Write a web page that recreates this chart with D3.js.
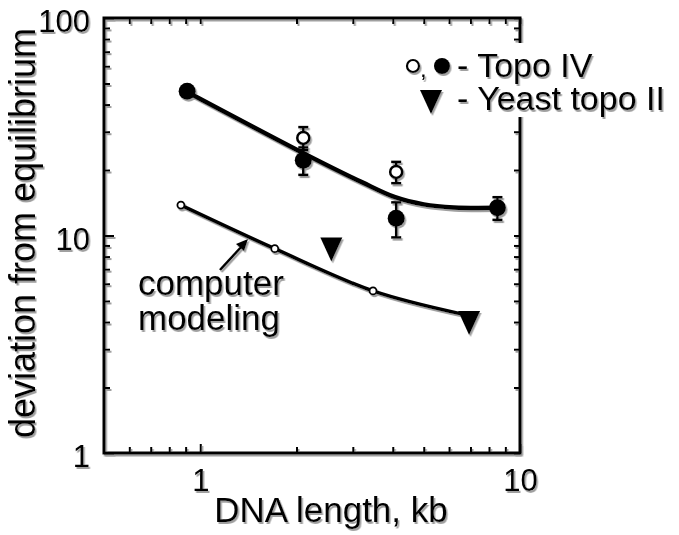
<!DOCTYPE html>
<html>
<head>
<meta charset="utf-8">
<script src="https://cdn.jsdelivr.net/npm/d3@7"></script>
<style>
  html, body { margin: 0; padding: 0; background: #fff; }
  svg { display: block; }
  text { font-family: "Liberation Sans", Arial, Helvetica, sans-serif; fill: #000; }
</style>
</head>
<body>
<svg id="chart" width="679" height="535"></svg>
<script>
// Topo IV measurements: open and filled circles with error bars
const topoOpenLength = [2.1, 4.1];
const topoOpenDev    = [28.1, 19.6];
const topoOpenErr    = [3.4, 2.2];

const topoFilledLength = [0.91, 2.1, 4.1, 8.5];
const topoFilledDev    = [46, 22.2, 12.0, 13.4];
const topoFilledErr    = [0, 3.2, 2.2, 1.6];

// Yeast topo II measurements
const yeastLength = [2.57, 6.93];
const yeastDev    = [8.8, 4.05];

// Smooth fit through the Topo IV data
const fitLength = [0.91, 2.2, 3.2, 4.07, 5.0, 6.2, 8.47];
const fitDev    = [45.7, 23.1, 17.6, 15.0, 13.9, 13.45, 13.4];

// Computer modeling: computed points and the curve through them
const modelLength = [0.87, 1.71, 3.47];
const modelDev    = [13.8, 8.7, 5.56];
const modelCurveLength = [0.87, 1.71, 3.47, 6.6];
const modelCurveDev    = [13.8, 8.7, 5.56, 4.35];

// Axis ticks
const xMajorTicks = [1, 10];
const xMinorTicks = [0.6, 0.7, 0.8, 0.9, 2, 3, 4, 5, 6, 7, 8, 9];
const yMajorTicks = [1, 10, 100];
const yMinorTicks = [2, 3, 4, 5, 6, 7, 8, 9, 20, 30, 40, 50, 60, 70, 80, 90];

const legendLabels = ["- Topo IV", "- Yeast topo II"];

const svg = d3.select("#chart");
const plotL = 104, plotR = 520, plotT = 18, plotB = 453;

const x = d3.scaleLog().domain([0.5, 10]).range([plotL, plotR]);
const y = d3.scaleLog().domain([1, 100]).range([plotB, plotT]);

// soft grey offset shadow that the printed figure carries
const defs = svg.append("defs");
const f = defs.append("filter").attr("id", "shade")
  .attr("x", "-10%").attr("y", "-10%").attr("width", "130%").attr("height", "130%");
f.append("feDropShadow").attr("dx", 1.5).attr("dy", 2).attr("stdDeviation", 0.6)
  .attr("flood-color", "#888").attr("flood-opacity", 0.8);

const g = svg.append("g").attr("filter", "url(#shade)");

// axes: ticks point into the plot on all four sides
function styleAxis(sel) {
  sel.select(".domain").remove();
  sel.selectAll(".tick line").attr("stroke", "#000").attr("stroke-width", 2);
}
g.append("g").attr("transform", `translate(0,${plotB})`)
  .call(d3.axisBottom(x).tickValues(xMajorTicks).tickSize(-9).tickPadding(22).tickFormat(d3.format("d")))
  .call(styleAxis)
  .call(s => s.selectAll("text").attr("font-size", 31).attr("dy", "0.5em"));
g.append("g").attr("transform", `translate(0,${plotB})`)
  .call(d3.axisBottom(x).tickValues(xMinorTicks).tickSize(-6).tickFormat(""))
  .call(styleAxis);
g.append("g").attr("transform", `translate(0,${plotT})`)
  .call(d3.axisTop(x).tickValues(xMajorTicks.concat(xMinorTicks)).tickSize(-6).tickFormat(""))
  .call(styleAxis);

g.append("g").attr("transform", `translate(${plotL},0)`)
  .call(d3.axisLeft(y).tickValues(yMajorTicks).tickSize(-10).tickPadding(14).tickFormat(d3.format("d")))
  .call(styleAxis)
  .call(s => s.selectAll("text").attr("font-size", 31).attr("dy", "0.45em"));
g.append("g").attr("transform", `translate(${plotL},0)`)
  .call(d3.axisLeft(y).tickValues(yMinorTicks).tickSize(-6).tickFormat(""))
  .call(styleAxis);
g.append("g").attr("transform", `translate(${plotR},0)`)
  .call(d3.axisRight(y).tickValues(yMajorTicks.concat(yMinorTicks)).tickSize(-6).tickFormat(""))
  .call(styleAxis);

// frame
g.append("path")
  .attr("d", `M${plotL},${plotT}H${plotR}V${plotB}H${plotL}Z`)
  .attr("fill", "none").attr("stroke", "#000").attr("stroke-width", 3);

// axis titles
g.append("text")
  .attr("x", 331).attr("y", 522)
  .attr("text-anchor", "middle").attr("font-size", 35)
  .text("DNA length, kb");
g.append("text")
  .attr("transform", "translate(35,233) rotate(-90)")
  .attr("text-anchor", "middle").attr("font-size", 36)
  .text("deviation from equilibrium");

// curves
const line = d3.line().curve(d3.curveCatmullRom.alpha(0.5)).x(d => x(d[0])).y(d => y(d[1]));
g.append("path")
  .datum(d3.zip(fitLength, fitDev))
  .attr("d", line).attr("fill", "none").attr("stroke", "#000").attr("stroke-width", 4.5);
g.append("path")
  .datum(d3.zip(modelCurveLength, modelCurveDev))
  .attr("d", line).attr("fill", "none").attr("stroke", "#000").attr("stroke-width", 3.5);

// model points
g.selectAll(".model").data(d3.zip(modelLength, modelDev)).join("circle")
  .attr("cx", d => x(d[0])).attr("cy", d => y(d[1])).attr("r", 3.5)
  .attr("fill", "#fff").attr("stroke", "#000").attr("stroke-width", 1.8);

// error bars
function errorBars(lengths, devs, errs) {
  const data = d3.zip(lengths, devs, errs).filter(d => d[2] > 0);
  const eg = g.append("g").attr("stroke", "#000").attr("stroke-width", 2.5);
  eg.selectAll(".v").data(data).join("line")
    .attr("x1", d => x(d[0])).attr("x2", d => x(d[0]))
    .attr("y1", d => y(d[1] - d[2])).attr("y2", d => y(d[1] + d[2]));
  eg.selectAll(".lo").data(data).join("line")
    .attr("x1", d => x(d[0]) - 5).attr("x2", d => x(d[0]) + 5)
    .attr("y1", d => y(d[1] - d[2])).attr("y2", d => y(d[1] - d[2]));
  eg.selectAll(".hi").data(data).join("line")
    .attr("x1", d => x(d[0]) - 5).attr("x2", d => x(d[0]) + 5)
    .attr("y1", d => y(d[1] + d[2])).attr("y2", d => y(d[1] + d[2]));
}
errorBars(topoFilledLength, topoFilledDev, topoFilledErr);
errorBars(topoOpenLength, topoOpenDev, topoOpenErr);

g.selectAll(".filled").data(d3.zip(topoFilledLength, topoFilledDev)).join("circle")
  .attr("cx", d => x(d[0])).attr("cy", d => y(d[1])).attr("r", 8.5).attr("fill", "#000");
g.selectAll(".open").data(d3.zip(topoOpenLength, topoOpenDev)).join("circle")
  .attr("cx", d => x(d[0])).attr("cy", d => y(d[1])).attr("r", 6)
  .attr("fill", "#fff").attr("stroke", "#000").attr("stroke-width", 2.5);

// downward triangle marker
const tri = "M-11,-10L11,-10L0,14Z";
g.selectAll(".yeast").data(d3.zip(yeastLength, yeastDev)).join("path")
  .attr("transform", d => `translate(${x(d[0])},${y(d[1])})`)
  .attr("d", tri).attr("fill", "#000");

// annotation
g.append("text").attr("x", 138).attr("y", 295).attr("font-size", 35).text("computer");
g.append("text").attr("x", 138).attr("y", 330).attr("font-size", 35).text("modeling");
g.append("line")
  .attr("x1", 220).attr("y1", 270).attr("x2", 243).attr("y2", 245)
  .attr("stroke", "#000").attr("stroke-width", 2.5);
g.append("path")
  .attr("d", "M248,239L236,244L244,251Z").attr("fill", "#000");

// legend, drawn on a white panel over the right frame
const lg = svg.append("g");
lg.append("rect").attr("x", 402).attr("y", 43).attr("width", 277).attr("height", 74).attr("fill", "#fff");
const lgi = lg.append("g").attr("filter", "url(#shade)");
lgi.append("circle").attr("cx", 413).attr("cy", 66).attr("r", 6)
  .attr("fill", "#fff").attr("stroke", "#000").attr("stroke-width", 2.2);
lgi.append("text").attr("x", 420).attr("y", 77).attr("font-size", 24).text(",");
lgi.append("circle").attr("cx", 442).attr("cy", 66).attr("r", 8).attr("fill", "#000");
lgi.append("path").attr("transform", "translate(431,100)").attr("d", tri).attr("fill", "#000");
lgi.selectAll(".lt").data(legendLabels).join("text")
  .attr("x", 457).attr("y", (d, i) => 77 + i * 33)
  .attr("font-size", 34).text(d => d);
</script>
</body>
</html>
